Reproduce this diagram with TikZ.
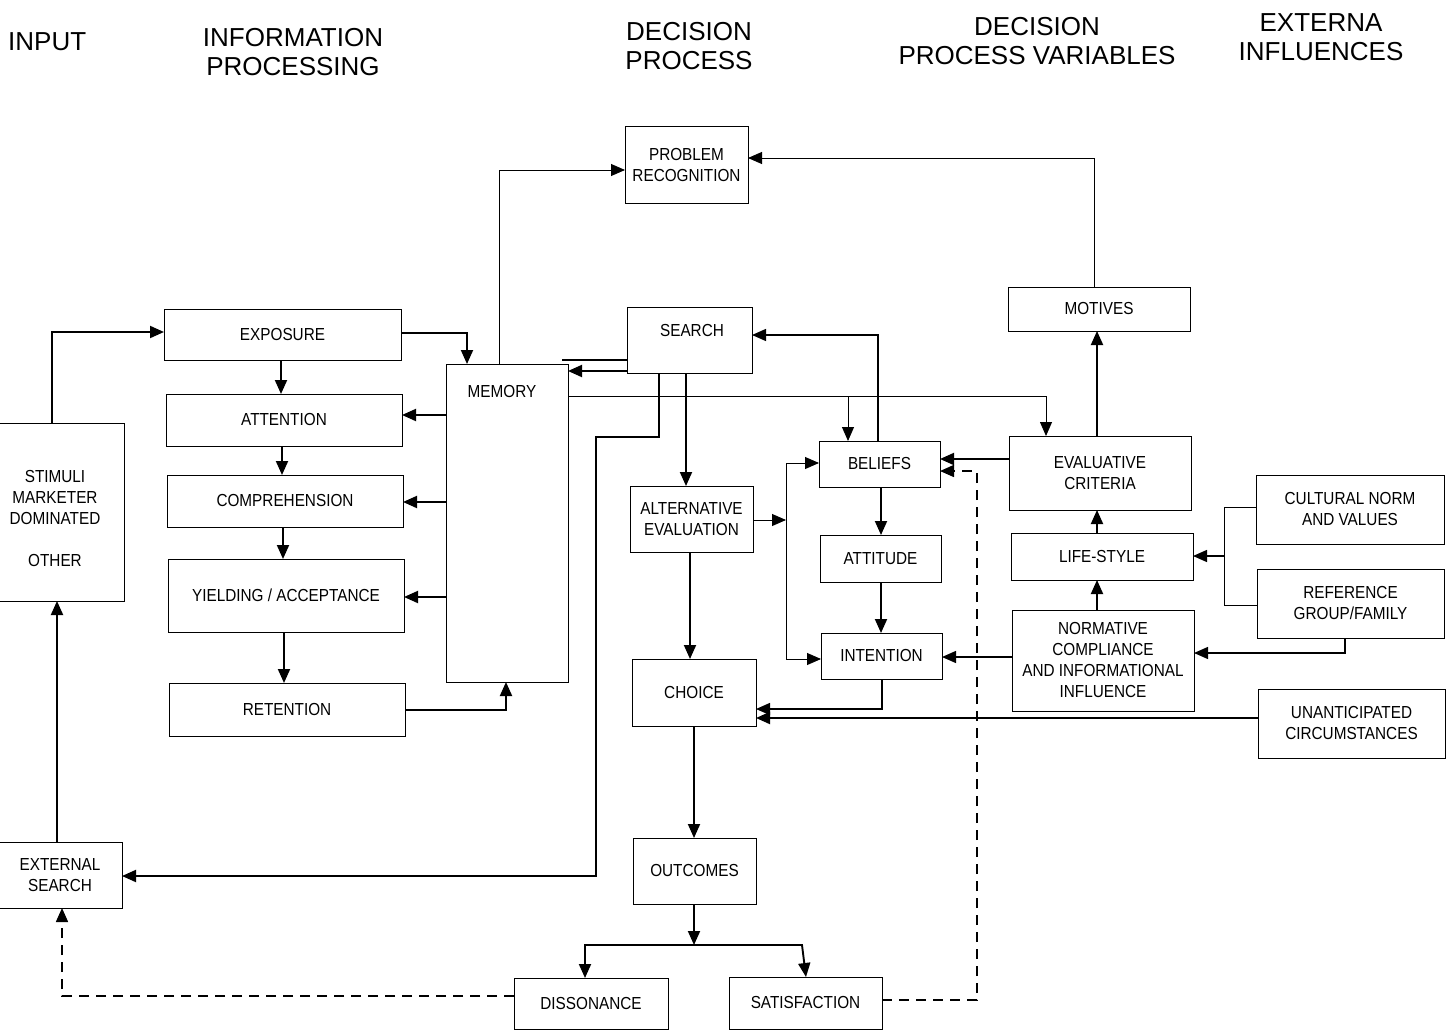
\documentclass[tikz,border=0pt]{standalone}
\usepackage{fontspec}
\setmainfont{Liberation Sans}
\newfontfamily\bxfam[FakeStretch=0.88]{Liberation Sans}
\usetikzlibrary{arrows.meta,calc}
\newcommand{\bxfont}{\bxfam\fontsize{17.4}{21}\selectfont}
\newcommand{\ttlfont}{\fontsize{26}{29}\selectfont}
\tikzset{
  box/.style={draw, line width=1pt, inner sep=0pt, outer sep=0pt, align=center, font=\bxfont},
  txt/.style={inner sep=0pt, align=center, font=\bxfont},
  ttl/.style={inner sep=0pt, align=center, font=\ttlfont},
  tip/.style={-{Triangle[length=14pt,width=12pt]}},
  conn/.style={tip, line width=1.9pt},
  mconn/.style={tip, line width=1.3pt},
  tconn/.style={tip, line width=0.9pt},
  tline/.style={line width=0.9pt},
  kline/.style={line width=1.9pt},
  dconn/.style={tip, line width=1.5pt, dash pattern=on 10pt off 7pt},
}
\newcommand{\mkbox}[6]{\node[box, minimum width={#4pt-#2pt}, minimum height={#5pt-#3pt}] (#1) at ({(#2+#4)/2},{(#3+#5)/2}) {#6};}
\begin{document}
\begin{tikzpicture}[x=1pt,y=-1pt]
\useasboundingbox (0,0) rectangle (1446,1030);
% titles
\node[ttl, anchor=west] (t1) at (8,42) {INPUT};
\node[ttl] (t2) at (293,52) {INFORMATION\\PROCESSING};
\node[ttl] (t3) at (689,46) {DECISION\\PROCESS};
\node[ttl] (t4) at (1037,41) {DECISION\\PROCESS VARIABLES};
\node[ttl] (t5) at (1321,37) {EXTERNA\\INFLUENCES};
% boxes
\mkbox{stim}{-2}{423}{124}{601}{}
\node[txt] (stimlbl) at (55,519) {STIMULI\\MARKETER\\DOMINATED\\[21pt]OTHER};
\mkbox{ext}{-2}{842}{122}{908}{EXTERNAL\\SEARCH}
\mkbox{expo}{164}{309}{401}{360}{EXPOSURE}
\mkbox{att}{166}{394}{402}{446}{ATTENTION}
\mkbox{comp}{167}{475}{403}{527}{COMPREHENSION}
\mkbox{yield}{168}{559}{404}{632}{YIELDING / ACCEPTANCE}
\mkbox{ret}{169}{683}{405}{736}{RETENTION}
\mkbox{mem}{446}{364}{568}{682}{}
\node[txt] (memlbl) at (502,392) {MEMORY};
\mkbox{prob}{625}{127}{748}{203}{PROBLEM\\RECOGNITION}
\mkbox{search}{627}{307}{752}{373}{}
\node[txt] (searchlbl) at (692,331) {SEARCH};
\mkbox{alt}{630}{486}{753}{552}{ALTERNATIVE\\EVALUATION}
\mkbox{choice}{632}{659}{756}{726}{CHOICE}
\mkbox{out}{633}{838}{756}{904}{OUTCOMES}
\mkbox{dis}{514}{978}{668}{1029}{DISSONANCE}
\mkbox{sat}{729}{977}{882}{1029}{SATISFACTION}
\mkbox{bel}{819}{441}{940}{487}{BELIEFS}
\mkbox{atti}{820}{535}{941}{582}{ATTITUDE}
\mkbox{int}{821}{633}{942}{679}{INTENTION}
\mkbox{mot}{1008}{287}{1190}{331}{MOTIVES}
\mkbox{eval}{1009}{436}{1191}{510}{EVALUATIVE\\CRITERIA}
\mkbox{life}{1011}{533}{1193}{580}{LIFE-STYLE}
\mkbox{norm}{1012}{610}{1194}{711}{NORMATIVE\\COMPLIANCE\\AND INFORMATIONAL\\INFLUENCE}
\mkbox{cult}{1256}{475}{1444}{544}{CULTURAL NORM\\AND VALUES}
\mkbox{ref}{1257}{569}{1444}{638}{REFERENCE\\GROUP/FAMILY}
\mkbox{unant}{1258}{689}{1445}{758}{UNANTICIPATED\\CIRCUMSTANCES}
% coordinates
\coordinate (memtr) at (562,360);
\coordinate (altj) at (786,520);
\coordinate (split) at (694,945);
\coordinate (brk) at (1224,556);
% connectors
\draw[conn] (52,0 |- stim.north) -- (52,332) -- (0,332 -| expo.west);
\draw[conn] (57,0 |- ext.north) -- (57,0 |- stim.south);
\draw[conn] (281,0 |- expo.south) -- (281,0 |- att.north);
\draw[conn] (282,0 |- att.south) -- (282,0 |- comp.north);
\draw[conn] (283,0 |- comp.south) -- (283,0 |- yield.north);
\draw[conn] (284,0 |- yield.south) -- (284,0 |- ret.north);
\draw[conn] (0,333 -| expo.east) -- (467,333) -- (467,0 |- mem.north);
\draw[conn] (0,415 -| mem.west) -- (0,415 -| att.east);
\draw[conn] (0,502 -| mem.west) -- (0,502 -| comp.east);
\draw[conn] (0,597 -| mem.west) -- (0,597 -| yield.east);
\draw[conn] (0,710 -| ret.east) -- (506,710) -- (506,0 |- mem.south);
\draw[tconn] (499,0 |- mem.north) -- (499,170) -- (0,170 -| prob.west);
\draw[tconn] (1094,0 |- mot.north) -- (1094,158) -- (0,158 -| prob.east);
\draw[kline] (memtr) -- (0,360 -| search.west);
\draw[conn] (0,371 -| search.west) -- (0,371 -| mem.east);
\draw[conn] (659,0 |- search.south) -- (659,437) -- (596,437) -- (596,876) -- (0,876 -| ext.east);
\draw[conn] (686,0 |- search.south) -- (686,0 |- alt.north);
\draw[tconn] (0,396 -| mem.east) -- (1046,396) -- (1046,0 |- eval.north);
\draw[tconn] (848,396) -- (848,0 |- bel.north);
\draw[mconn] (878,0 |- bel.north) -- (878,335) -- (0,335 -| search.east);
\draw[tconn] (0,520 -| alt.east) -- (altj);
\draw[tconn] (altj) -- (786,463) -- (0,463 -| bel.west);
\draw[tconn] (altj) -- (786,659) -- (0,659 -| int.west);
\draw[conn] (881,0 |- bel.south) -- (881,0 |- atti.north);
\draw[conn] (881,0 |- atti.south) -- (881,0 |- int.north);
\draw[conn] (0,459 -| eval.west) -- (0,459 -| bel.east);
\draw[dconn] (0,1000 -| sat.east) -- (977,1000) -- (977,471) -- (0,471 -| bel.east);
\draw[conn] (1097,0 |- eval.north) -- (1097,0 |- mot.south);
\draw[conn] (1097,0 |- life.north) -- (1097,0 |- eval.south);
\draw[conn] (1097,0 |- norm.north) -- (1097,0 |- life.south);
\draw[mconn] (0,657 -| norm.west) -- (0,657 -| int.east);
\draw[mconn] (882,0 |- int.south) -- (882,709) -- (0,709 -| choice.east);
\draw[conn] (0,718 -| unant.west) -- (0,718 -| choice.east);
\draw[tline] (0,507 -| cult.west) -- (1224,507) -- (1224,605) -- (0,605 -| ref.west);
\draw[mconn] (brk) -- (0,556 -| life.east);
\draw[mconn] (1345,0 |- ref.south) -- (1345,653) -- (0,653 -| norm.east);
\draw[conn] (690,0 |- alt.south) -- (690,0 |- choice.north);
\draw[conn] (694,0 |- choice.south) -- (694,0 |- out.north);
\draw[conn] (694,0 |- out.south) -- (split);
\draw[conn] (split) -- (585,945) -- (585,0 |- dis.north);
\draw[conn] (split) -- (802,945) -- (806,0 |- sat.north);
\draw[dconn] (0,996 -| dis.west) -- (62,996) -- (62,0 |- ext.south);
\end{tikzpicture}
\end{document}
